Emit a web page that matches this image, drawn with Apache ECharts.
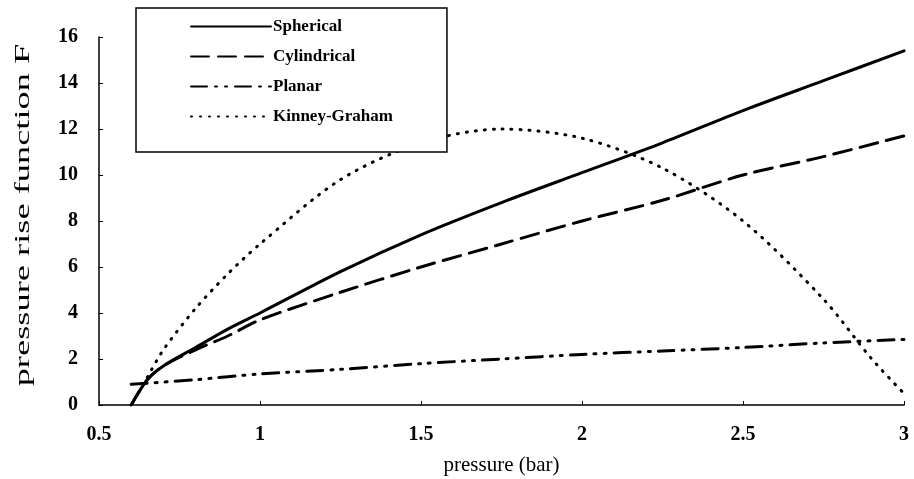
<!DOCTYPE html>
<html><head><meta charset="utf-8">
<script src="https://cdn.jsdelivr.net/npm/echarts@6/dist/echarts.min.js"></script>
<style>html,body{margin:0;padding:0;background:#fff}#c{width:914px;height:479px}</style>
</head><body><div id="c"></div>
<script>
const seriesNames = ['Spherical', 'Cylindrical', 'Planar', 'Kinney-Graham'];
const sphericalP = [0.6, 0.65, 0.7, 0.8, 0.9, 1.0, 1.25, 1.5, 1.75, 2.0, 2.25, 2.5, 2.75, 3.0];
const sphericalF = [0, 1.1, 1.7, 2.5, 3.3, 4.0, 5.8, 7.4, 8.8, 10.1, 11.4, 12.8, 14.1, 15.4];
const cylindricalP = [0.6, 0.65, 0.7, 0.8, 0.9, 1.0, 1.25, 1.5, 1.75, 2.0, 2.25, 2.5, 2.75, 3.0];
const cylindricalF = [0, 1.1, 1.7, 2.4, 3.0, 3.7, 4.9, 6.0, 7.0, 8.0, 8.9, 10.0, 10.8, 11.7];
const planarP = [0.6, 0.8, 1.0, 1.25, 1.5, 1.75, 2.0, 2.25, 2.5, 2.75, 3.0];
const planarF = [0.9, 1.1, 1.35, 1.55, 1.8, 2.0, 2.2, 2.35, 2.5, 2.7, 2.85];
const kgP = [0.65, 0.7, 0.8, 0.9, 1.0, 1.25, 1.5, 1.75, 2.0, 2.25, 2.5, 2.75, 2.9, 3.0];
const kgF = [1.2, 2.4, 4.2, 5.7, 7.0, 9.8, 11.4, 12.0, 11.6, 10.3, 8.0, 4.6, 2.0, 0.5];
const xTicks = {min: 0.5, max: 3, interval: 0.5};
const yTicks = {min: 0, max: 16, interval: 2};
const xTitle = 'pressure (bar)';
const yTitle = 'pressure rise function F';

const zip = (a, b) => a.map((v, i) => [v, b[i]]);
const serif = '"Liberation Serif", "DejaVu Serif", serif';
const chart = echarts.init(document.getElementById('c'));
const mk = (name, p, f, type) => ({
  name, type: 'line', data: zip(p, f), showSymbol: false, symbol: 'none', smooth: 0.3,
  lineStyle: {color: '#000', width: 3, type, cap: 'round'}, itemStyle: {color: '#000'}
});
chart.setOption({
  animation: false,
  grid: {left: 99, right: 10, top: 37, bottom: 74, outerBoundsMode: 'none'},
  legend: {
    orient: 'vertical', left: 136, top: 8, data: seriesNames,
    borderColor: '#000', borderWidth: 1.5, padding: [10, 54, 27, 54],
    itemWidth: 80, itemHeight: 14, itemGap: 13,
    itemStyle: {opacity: 0},
    textStyle: {fontFamily: serif, fontWeight: 'bold', fontSize: 17, lineHeight: 17, color: '#000', padding: [0, 0, 0, -3]},
    backgroundColor: '#fff', z: 10
  },
  graphic: [{
    type: 'text', x: 24, y: 215, rotation: Math.PI / 2, scaleX: 1.82,
    style: {text: yTitle, font: '20px "Liberation Serif", serif', fill: '#000',
            textAlign: 'center', textVerticalAlign: 'middle', align: 'center', verticalAlign: 'middle'}
  }],
  xAxis: {
    type: 'value', min: xTicks.min, max: xTicks.max, interval: xTicks.interval,
    name: xTitle, nameLocation: 'middle', nameGap: 50,
    nameTextStyle: {fontFamily: serif, fontSize: 21, color: '#000'},
    axisLine: {lineStyle: {color: '#000', width: 1.5}},
    axisTick: {inside: true, length: 4, lineStyle: {color: '#000'}},
    axisLabel: {fontFamily: serif, fontWeight: 'bold', fontSize: 20, color: '#000', margin: 20},
    splitLine: {show: false}
  },
  yAxis: {
    type: 'value', min: yTicks.min, max: yTicks.max, interval: yTicks.interval,
    axisLine: {show: true, lineStyle: {color: '#000', width: 1.5}},
    axisTick: {show: true, inside: true, length: 4, lineStyle: {color: '#000'}},
    axisLabel: {fontFamily: serif, fontWeight: 'bold', fontSize: 20, color: '#000', margin: 21},
    splitLine: {show: false}
  },
  series: [
    mk('Spherical', sphericalP, sphericalF, 'solid'),
    mk('Cylindrical', cylindricalP, cylindricalF, [18, 9]),
    mk('Planar', planarP, planarF, [16, 8, 2, 8, 2, 8]),
    mk('Kinney-Graham', kgP, kgF, [1, 8])
  ]
});
</script></body></html>
